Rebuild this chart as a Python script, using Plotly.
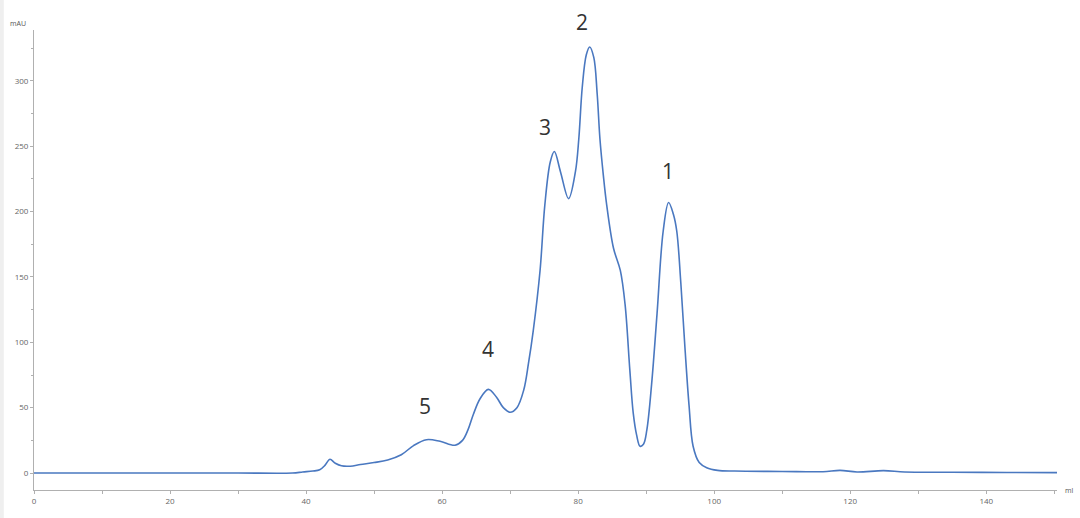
import plotly.graph_objects as go

# elution volume (ml) and absorbance (mAU)
ml = [0, 10, 20, 30, 38, 39.5, 41, 42, 42.8, 43.5, 44.3, 45.2, 46.5, 48, 50, 52, 54,
      55.8, 57.7, 59.7, 61.9, 63.0, 63.8, 64.6, 65.6, 66.8, 68.0, 69.0, 70.0, 71.0,
      72.0, 72.7, 73.4, 74.4, 75.1, 75.9, 76.5, 77.4, 78.6, 79.6, 80.1, 80.6, 81.2,
      81.7, 82.3, 82.8, 83.2, 83.7, 84.2, 85.2, 86.2, 86.9, 87.6, 88.1, 88.6, 89.1,
      89.6, 90.1, 90.8, 91.6, 92.5, 93.3, 94.0, 94.5, 95.1, 95.7, 96.3, 96.9, 97.8,
      98.9, 100.5, 103, 110, 116, 118.5, 121, 124.9, 128, 135, 143, 150.4]
mau = [0, 0, 0, 0, 0, 0.8, 1.5, 2.5, 6, 10.5, 7.5, 5.5, 5.2, 6.5, 8, 10, 14,
       21, 25.5, 24.3, 21.3, 25, 33, 45, 57, 64, 58, 50, 46.5, 50,
       63.5, 84, 109, 155, 205, 238, 246, 230.6, 210, 230.6, 256, 295, 320,
       326, 318, 290, 256, 228, 205, 172, 155, 129, 78.7, 45.8, 29, 20.5,
       22, 33, 68, 122, 185, 207, 198, 185, 145, 96, 52, 20.5, 8,
       4, 2, 1.5, 1.2, 1, 2, 0.8, 1.8, 0.8, 0.6, 0.4, 0.3]

peak_names = ["1", "2", "3", "4", "5"]
peak_x = [93.2, 80.6, 75.1, 66.8, 57.5]
peak_y = [231, 345, 265, 95, 51]

y_range = [-13, 339]

fig = go.Figure()
fig.add_trace(go.Scatter(x=ml, y=mau, mode="lines",
                         line=dict(color="#4a78c0", width=1.6, shape="spline", smoothing=1.0),
                         hoverinfo="x+y"))

# peak numbers; placed in paper height so the one above the axis top still shows
for name, px_, py_ in zip(peak_names, peak_x, peak_y):
    fig.add_annotation(x=px_, xref="x", yref="paper",
                       y=(py_ - y_range[0]) / (y_range[1] - y_range[0]),
                       xanchor="center", yanchor="middle",
                       text=name, showarrow=False,
                       font=dict(size=21, color="#333333", family="Open Sans"))

fig.add_annotation(xref="paper", yref="paper", x=-0.016, y=1.0, text="mAU",
                   showarrow=False, xanchor="center", yanchor="bottom",
                   font=dict(size=7, color="#555555"))
fig.add_annotation(xref="paper", yref="paper", x=1.006, y=0.0, text="ml",
                   showarrow=False, xanchor="left", yanchor="middle",
                   font=dict(size=7, color="#555555"))

# thin grey strip at the left edge of the page
fig.add_shape(type="rect", xref="paper", yref="paper", x0=-0.034, x1=-0.0295,
              y0=-0.1, y1=1.1, fillcolor="#efefef", line=dict(width=0), layer="below")

axis_style = dict(showgrid=False, zeroline=False, showline=True, linecolor="#b0b0b0",
                  linewidth=1, ticks="outside", ticklen=3, tickcolor="#b0b0b0",
                  tickfont=dict(size=8, color="#666666", family="Open Sans"))

fig.update_xaxes(range=[0, 150.4], tick0=0, dtick=20,
                 minor=dict(dtick=10, ticks="outside", ticklen=3, tickcolor="#b0b0b0"),
                 **axis_style)
fig.update_yaxes(range=y_range, tick0=0, dtick=50,
                 minor=dict(dtick=25, ticks="outside", ticklen=2, tickcolor="#b0b0b0"),
                 **axis_style)

fig.update_layout(width=1080, height=518, showlegend=False,
                  plot_bgcolor="white", paper_bgcolor="white",
                  margin=dict(l=34, r=23, t=30, b=20))

# drop the default 8px body margin so the figure sits flush with the window
fig.write_html("out.html", config={"displayModeBar": False},
               post_script="document.body.style.margin='0';document.body.style.overflow='hidden';")
